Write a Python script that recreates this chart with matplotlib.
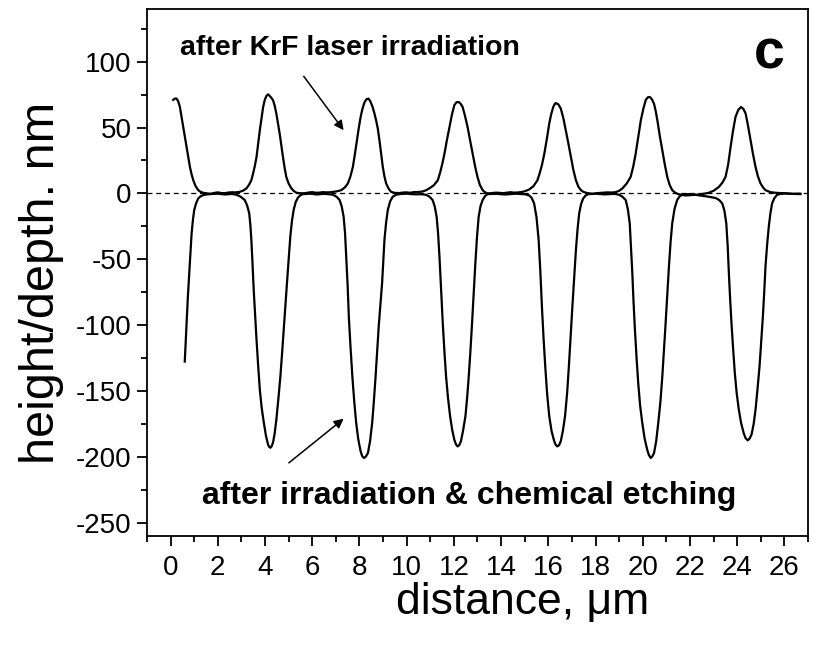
import matplotlib
matplotlib.use("Agg")
import matplotlib.pyplot as plt
from matplotlib.ticker import MultipleLocator

plt.rcParams['font.family'] = ['Liberation Sans', 'DejaVu Sans']
plt.rcParams['axes.unicode_minus'] = False

# profile after KrF laser irradiation: (distance um, height nm)
krf_profile = [
    (0.11, 71), (0.18, 72), (0.25, 72), (0.32, 70), (0.39, 66), (0.46, 58.5), (0.53, 50.5),
    (0.6, 43), (0.68, 35), (0.75, 27), (0.82, 20), (0.89, 14.5), (0.96, 10), (1.06, 5.5),
    (1.17, 2.5), (1.27, 1.2), (1.38, 0.5), (1.55, 0), (1.7, -0.3), (1.85, 0.4), (2.0, 0.8),
    (2.15, 0.3), (2.3, 0.2), (2.45, 0.7), (2.6, 0.9), (2.75, 0.8), (2.93, 1.2), (3.08, 2.2),
    (3.21, 3.8), (3.32, 6.5), (3.42, 10), (3.5, 15.5), (3.57, 21), (3.64, 27.7), (3.71, 38),
    (3.78, 48), (3.85, 57), (3.92, 65.6), (3.99, 71), (4.06, 74), (4.13, 75.2), (4.2, 74),
    (4.27, 72.5), (4.34, 70.7), (4.41, 66.5), (4.48, 60.6), (4.55, 53), (4.62, 45.5),
    (4.69, 36.5), (4.76, 27.7), (4.83, 19.5), (4.9, 12.6), (5.0, 7.5), (5.12, 3.8),
    (5.22, 1.8), (5.33, 0.5), (5.5, 0.1), (5.7, 0.2), (5.85, 0.7), (6.0, 1.0), (6.15, 0.5),
    (6.3, 0.6), (6.45, 1.0), (6.6, 0.8), (6.75, 0.9), (6.9, 1.2), (7.07, 1.7), (7.23, 2.5),
    (7.38, 4.5), (7.51, 7.6), (7.62, 13), (7.72, 20), (7.8, 29), (7.89, 40), (7.97, 49.5),
    (8.05, 58), (8.13, 64.5), (8.22, 69.4), (8.3, 71.5), (8.38, 72), (8.46, 70), (8.55, 66),
    (8.63, 61), (8.7, 56), (8.78, 49), (8.85, 40), (8.92, 30), (8.99, 20), (9.06, 12.8),
    (9.13, 7.6), (9.23, 3.8), (9.34, 1.2), (9.5, 0.4), (9.7, 0.3), (9.85, 0.7), (10.0, 0.8),
    (10.15, 0.5), (10.3, 1.0), (10.5, 1.1), (10.68, 1.5), (10.82, 2.4), (10.96, 3.8),
    (11.15, 6.2), (11.32, 10), (11.42, 16), (11.51, 22.5), (11.6, 30), (11.7, 40),
    (11.81, 50), (11.92, 60), (12.02, 67), (12.11, 69.2), (12.2, 69.4), (12.29, 68),
    (12.37, 65.6), (12.47, 59), (12.58, 50.5), (12.69, 40), (12.8, 30), (12.9, 20.5),
    (13.0, 12.6), (13.1, 6.5), (13.22, 2.5), (13.32, 0.8), (13.43, 0), (13.6, 0.3),
    (13.8, 0.6), (13.95, 0.4), (14.1, 0.2), (14.25, 0.6), (14.4, 0.9), (14.55, 0.6),
    (14.7, 0.7), (14.91, 1.2), (15.05, 2), (15.19, 3), (15.37, 5.5), (15.54, 10),
    (15.63, 15), (15.73, 21.5), (15.83, 30), (15.94, 41.5), (16.04, 53), (16.12, 60),
    (16.21, 65.6), (16.27, 67.8), (16.32, 68.6), (16.43, 67.5), (16.53, 64.4), (16.64, 57),
    (16.74, 48), (16.85, 38), (16.96, 27.7), (17.06, 18), (17.17, 10), (17.27, 5.3),
    (17.38, 2.5), (17.49, 1.2), (17.6, 0.5), (17.75, 0), (17.9, -0.3), (18.05, 0.2),
    (18.2, 0.4), (18.35, 0.6), (18.5, 0.8), (18.7, 0.7), (18.86, 1.0), (19.0, 2.0),
    (19.14, 3.8), (19.32, 7.5), (19.49, 12.6), (19.6, 20.5), (19.7, 30), (19.81, 43),
    (19.92, 55.5), (20.03, 64.5), (20.13, 71), (20.22, 73), (20.3, 73.2), (20.39, 71.5),
    (20.48, 68), (20.55, 62.5), (20.62, 55.5), (20.72, 44), (20.83, 32.8), (20.94, 21.5),
    (21.04, 12.6), (21.14, 6.5), (21.25, 2.5), (21.37, 0.6), (21.5, -0.5), (21.65, -1.1),
    (21.8, -1.5), (21.95, -1.4), (22.1, -1.2), (22.25, -1.0), (22.4, -0.8), (22.6, -0.2),
    (22.8, 0.5), (23.02, 2.2), (23.23, 5), (23.38, 8.3), (23.51, 12.6), (23.62, 22),
    (23.72, 35), (23.82, 47), (23.93, 58), (24.05, 63.5), (24.17, 65.6), (24.27, 64),
    (24.36, 60.6), (24.46, 51.5), (24.57, 40), (24.67, 30), (24.78, 20), (24.88, 13),
    (24.99, 7.6), (25.1, 4.5), (25.2, 2.5), (25.4, 1.0), (25.62, 0.5), (25.8, 0.3),
    (26.0, 0.2), (26.15, -0.1), (26.3, -0.3), (26.5, -0.4), (26.68, -0.5),
]

# profile after irradiation and chemical etching: (distance um, depth nm)
etch_profile = [
    (0.6, -127.6), (0.64, -113), (0.68, -98.5), (0.73, -79), (0.79, -60.6), (0.84, -44),
    (0.89, -30.3), (0.95, -19.5), (1.0, -12.7), (1.08, -7.5), (1.17, -3.8), (1.27, -2.2),
    (1.38, -1.3), (1.55, -0.7), (1.7, -0.5), (1.85, -0.3), (2.0, -0.2), (2.15, -0.5),
    (2.3, -0.8), (2.45, -0.6), (2.6, -0.4), (2.79, -1.0), (2.97, -2.5), (3.14, -5),
    (3.24, -9), (3.33, -15), (3.38, -24), (3.42, -35), (3.47, -53), (3.52, -73),
    (3.58, -92), (3.64, -111), (3.71, -131), (3.78, -149), (3.86, -163), (3.95, -174),
    (4.04, -184), (4.13, -190.7), (4.18, -192.5), (4.23, -193), (4.28, -192), (4.34, -189),
    (4.41, -182), (4.48, -171.7), (4.56, -157), (4.65, -139), (4.72, -122), (4.79, -103.6),
    (4.86, -85.5), (4.93, -68), (5.0, -50), (5.07, -33), (5.14, -21), (5.21, -12.7),
    (5.3, -6.5), (5.4, -3), (5.5, -1.4), (5.6, -0.5), (5.75, -0.4), (5.9, -0.2),
    (6.05, -0.5), (6.2, -0.8), (6.35, -0.5), (6.5, -0.3), (6.7, -0.6), (6.88, -1.0),
    (7.03, -2.5), (7.16, -5), (7.25, -10), (7.33, -17.7), (7.39, -30), (7.44, -48),
    (7.5, -70), (7.55, -93.5), (7.62, -116), (7.7, -139), (7.78, -158), (7.86, -174),
    (7.95, -186.5), (8.05, -195.8), (8.12, -199.5), (8.19, -200.8), (8.27, -199.8),
    (8.36, -197), (8.45, -188), (8.54, -174), (8.61, -158), (8.68, -140), (8.75, -120),
    (8.82, -100), (8.89, -84), (8.96, -68), (9.01, -51), (9.06, -35), (9.13, -22),
    (9.2, -12.7), (9.3, -6), (9.41, -2.5), (9.55, -1.0), (9.7, -0.5), (9.85, -0.3),
    (10.0, -0.2), (10.2, -0.5), (10.4, -0.7), (10.6, -0.6), (10.82, -1.0), (10.97, -2.5),
    (11.1, -5), (11.19, -10), (11.27, -17.7), (11.33, -30), (11.39, -48), (11.46, -73),
    (11.53, -98.5), (11.6, -120), (11.67, -139), (11.75, -155), (11.84, -169),
    (11.93, -179.5), (12.02, -187), (12.09, -190.5), (12.16, -192), (12.23, -191),
    (12.3, -188), (12.39, -180), (12.49, -169), (12.56, -155.5), (12.63, -139),
    (12.7, -120), (12.77, -98.5), (12.84, -75), (12.91, -53), (12.98, -33), (13.05, -17.7),
    (13.13, -9.5), (13.22, -5), (13.32, -2), (13.43, -0.5), (13.6, -0.4), (13.8, -0.3),
    (14.0, -0.6), (14.2, -0.8), (14.4, -0.5), (14.6, -0.2), (14.8, -0.4), (15.0, -0.6),
    (15.19, -1.5), (15.3, -3.5), (15.4, -7.6), (15.5, -18), (15.59, -35), (15.66, -58),
    (15.73, -86), (15.8, -110), (15.87, -131), (15.95, -152), (16.04, -169),
    (16.14, -180.5), (16.25, -188), (16.32, -191), (16.39, -192), (16.46, -191),
    (16.53, -188), (16.62, -180), (16.71, -169), (16.8, -151), (16.88, -128.8),
    (16.95, -107), (17.02, -86), (17.1, -63), (17.17, -43), (17.24, -27), (17.31, -15),
    (17.39, -8), (17.48, -3.8), (17.58, -1.6), (17.7, -0.5), (17.85, -0.4), (18.0, -0.2),
    (18.2, -0.5), (18.4, -0.7), (18.6, -0.5), (18.8, -0.3), (19.0, -1.0), (19.14, -2.5),
    (19.28, -5), (19.37, -12), (19.45, -22.7), (19.5, -40), (19.56, -60.6), (19.61, -82),
    (19.67, -103.6), (19.74, -125), (19.81, -144), (19.89, -161), (19.98, -174),
    (20.08, -186), (20.19, -194.5), (20.26, -198.5), (20.34, -200.8), (20.41, -199.5),
    (20.48, -197), (20.57, -188), (20.66, -174), (20.75, -158), (20.83, -139),
    (20.9, -119), (20.97, -98.5), (21.04, -77), (21.11, -55.6), (21.18, -37),
    (21.25, -22.7), (21.35, -11.5), (21.46, -5), (21.56, -2.3), (21.67, -1),
    (21.85, -0.6), (22.0, -0.5), (22.2, -1.0), (22.4, -1.5), (22.6, -2.0), (22.8, -2.5),
    (22.95, -3), (23.09, -3.5), (23.24, -5), (23.37, -7.6), (23.46, -13), (23.54, -22.7),
    (23.6, -40), (23.65, -60.6), (23.7, -79), (23.76, -98.5), (23.83, -118), (23.9, -136),
    (23.98, -151.5), (24.07, -164), (24.17, -174.5), (24.28, -182), (24.36, -185.8),
    (24.45, -187.4), (24.53, -186), (24.61, -183), (24.7, -175), (24.78, -164),
    (24.86, -149), (24.95, -131), (25.02, -112), (25.09, -93.5), (25.15, -74),
    (25.2, -55.6), (25.27, -39), (25.34, -25.3), (25.41, -15), (25.48, -7.6),
    (25.58, -3.5), (25.69, -1), (25.85, -0.3), (26.04, 0), (26.2, -0.2), (26.4, -0.3),
    (26.68, -0.2),
]

krf_x, krf_h = zip(*krf_profile)
etch_x, etch_h = zip(*etch_profile)

fig = plt.figure(figsize=(8.13, 6.46), dpi=100)
ax = fig.add_axes([0.1808, 0.1703, 0.8130, 0.8158])

ax.axhline(0, color='black', lw=0.9, ls=(0, (4, 3)), zorder=1)
ax.plot(krf_x, krf_h, color='black', lw=1.6, zorder=3)
ax.plot(etch_x, etch_h, color='black', lw=1.6, zorder=3)

ax.set_xlim(-1, 27)
ax.set_ylim(-260, 140)
ax.xaxis.set_minor_locator(MultipleLocator(1))
ax.yaxis.set_minor_locator(MultipleLocator(25))
ax.set_xticks(range(0, 27, 2))
ax.set_yticks(range(-250, 101, 50))

ax.tick_params(which='major', direction='out', length=7.5, width=1.3, labelsize=20)
ax.tick_params(axis='x', which='major', pad=6)
ax.tick_params(axis='y', which='major', pad=3.5)
ax.tick_params(which='minor', direction='out', length=4, width=1.3)
for s in ax.spines.values():
    s.set_linewidth(1.3)

ax.set_xlabel('distance, μm', fontsize=32)
ax.set_ylabel('height/depth. nm', fontsize=35)
ax.xaxis.set_label_coords(0.568, -0.088)
ax.yaxis.set_label_coords(-0.126, 0.48)

ax.text(0.39, 104.8, 'after KrF laser irradiation', fontsize=20.5, fontweight='bold',
        ha='left', va='baseline')
ax.text(1.31, -235.4, 'after irradiation & chemical etching', fontsize=23,
        fontweight='bold', ha='left', va='baseline')
ax.text(24.7, 94.7, 'c', fontsize=40, fontweight='bold', ha='left', va='baseline')

arrow = dict(arrowstyle='-|>', color='black', lw=1.1, mutation_scale=14,
             shrinkA=0, shrinkB=0)
ax.annotate('', xy=(7.33, 48), xytext=(5.64, 88.9), arrowprops=arrow)
ax.annotate('', xy=(7.33, -171), xytext=(5.01, -204.5), arrowprops=arrow)

fig.savefig('out.png', dpi=100)
